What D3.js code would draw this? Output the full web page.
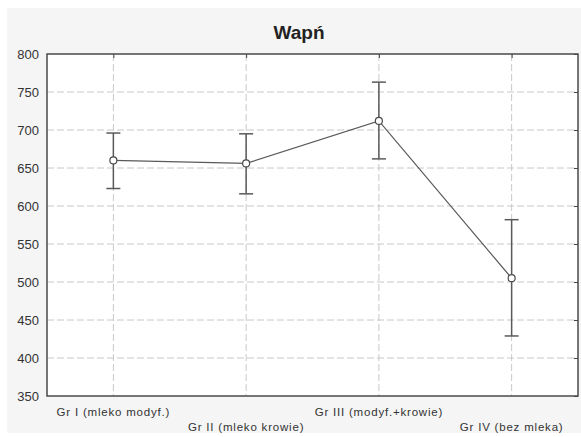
<!DOCTYPE html>
<html>
<head>
<meta charset="utf-8">
<script src="https://cdn.jsdelivr.net/npm/d3@7"></script>
<style>
  body { margin: 0; background: #fff; }
  svg { display: block; font-family: "Liberation Sans", Arial, sans-serif; }
</style>
</head>
<body>
<div id="chart"></div>
<script>
// Wapń - mean with error bars per group
const groups = ["Gr I (mleko modyf.)", "Gr II (mleko krowie)", "Gr III (modyf.+krowie)", "Gr IV (bez mleka)"];
const means = [660, 656, 712, 505];
const upper = [696, 695, 763, 582];
const lower = [623, 616, 662, 429];
const yTicks = [350, 400, 450, 500, 550, 600, 650, 700, 750, 800];

const W = 581, H = 437;
const margin = { top: 54, right: 3, bottom: 41, left: 47 },
  width = W - margin.left - margin.right,
  height = H - margin.top - margin.bottom;

const root = d3.select("#chart").append("svg")
  .attr("width", W)
  .attr("height", H);

// grey panel
root.append("rect")
  .attr("x", 7).attr("y", 8)
  .attr("width", W - 7).attr("height", 425)
  .attr("fill", "#f5f5f5");

root.append("text")
  .attr("x", 299).attr("y", 39)
  .attr("text-anchor", "middle")
  .style("font-size", "19px")
  .style("font-weight", "bold")
  .attr("fill", "#222")
  .text("Wapń");

const svg = root.append("g")
  .attr("transform", `translate(${margin.left},${margin.top})`);

svg.append("rect")
  .attr("width", width).attr("height", height)
  .attr("fill", "#fff");

const x = d3.scalePoint().domain(groups).range([0, width]).padding(0.5);
const y = d3.scaleLinear().domain([350, 800]).range([height, 0]);

// grid
svg.append("g")
  .selectAll("line")
  .data(yTicks.slice(1, -1))
  .join("line")
  .attr("x1", 0).attr("x2", width)
  .attr("y1", (d) => y(d)).attr("y2", (d) => y(d))
  .attr("stroke", "#c8c8c8")
  .attr("stroke-dasharray", "7,3");

svg.append("g")
  .selectAll("line")
  .data(groups)
  .join("line")
  .attr("x1", (d) => x(d)).attr("x2", (d) => x(d))
  .attr("y1", 0).attr("y2", height)
  .attr("stroke", "#c8c8c8")
  .attr("stroke-dasharray", "7,3");

// y axis labels
const yAxis = svg.append("g")
  .call(d3.axisLeft(y).tickValues(yTicks).tickSize(0).tickPadding(8));
yAxis.select(".domain").remove();
yAxis.selectAll("text")
  .style("font-size", "13px")
  .attr("fill", "#333");

// inner ticks on right and top
svg.append("g")
  .attr("transform", `translate(${width},0)`)
  .call(d3.axisLeft(y).tickValues(yTicks).tickSize(4).tickFormat(""))
  .call((g) => g.select(".domain").remove())
  .selectAll("line").attr("stroke", "#444");
svg.append("g")
  .call(d3.axisBottom(x).tickSize(4).tickFormat(""))
  .call((g) => g.select(".domain").remove())
  .selectAll("line").attr("stroke", "#444");

// x labels, staggered
svg.append("g")
  .selectAll("text")
  .data(groups)
  .join("text")
  .attr("x", (d) => x(d))
  .attr("y", (d, i) => height + (i % 2 === 0 ? 20 : 35))
  .attr("text-anchor", "middle")
  .style("font-size", "11.5px")
  .style("letter-spacing", "0.8px")
  .attr("fill", "#333")
  .text((d) => d);

// frame
svg.append("rect")
  .attr("width", width).attr("height", height)
  .attr("fill", "none")
  .attr("stroke", "#4a4a4a")
  .attr("stroke-width", 1.5);

const data = groups.map((g, i) => ({ g, m: means[i], hi: upper[i], lo: lower[i] }));

// error bars
const eb = svg.append("g").attr("stroke", "#5a5a5a").attr("stroke-width", 1.5);
eb.selectAll(".v").data(data).join("line")
  .attr("x1", (d) => x(d.g)).attr("x2", (d) => x(d.g))
  .attr("y1", (d) => y(d.hi)).attr("y2", (d) => y(d.lo));
eb.selectAll(".t").data(data).join("line")
  .attr("x1", (d) => x(d.g) - 7).attr("x2", (d) => x(d.g) + 7)
  .attr("y1", (d) => y(d.hi)).attr("y2", (d) => y(d.hi));
eb.selectAll(".b").data(data).join("line")
  .attr("x1", (d) => x(d.g) - 7).attr("x2", (d) => x(d.g) + 7)
  .attr("y1", (d) => y(d.lo)).attr("y2", (d) => y(d.lo));

// mean line
svg.append("path")
  .datum(data)
  .attr("fill", "none")
  .attr("stroke", "#5a5a5a")
  .attr("stroke-width", 1.2)
  .attr("d", d3.line().x((d) => x(d.g)).y((d) => y(d.m)));

svg.selectAll(".pt").data(data).join("circle")
  .attr("cx", (d) => x(d.g))
  .attr("cy", (d) => y(d.m))
  .attr("r", 3.5)
  .attr("fill", "#fff")
  .attr("stroke", "#4a4a4a")
  .attr("stroke-width", 1.2);
</script>
</body>
</html>
